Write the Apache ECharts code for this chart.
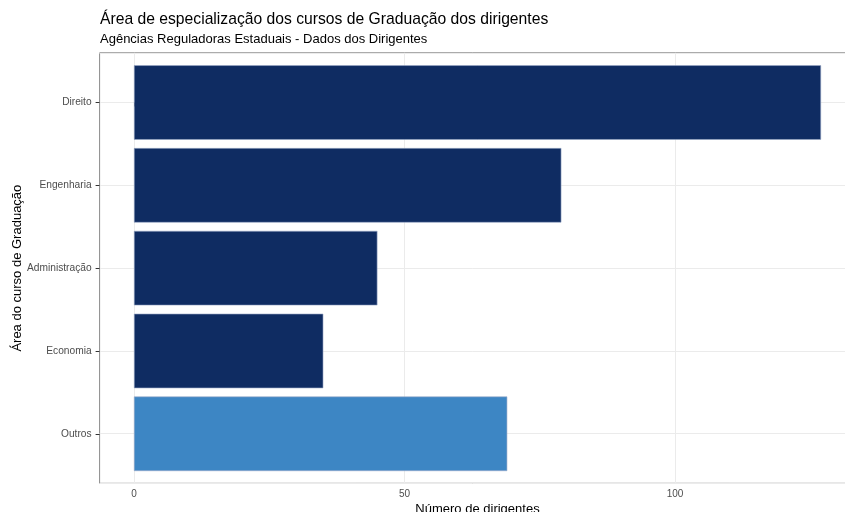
<!DOCTYPE html>
<html>
<head>
<meta charset="utf-8">
<script src="https://cdn.jsdelivr.net/npm/echarts@6/dist/echarts.min.js"></script>
<style>html,body{margin:0;padding:0;background:#fff}#c{width:845px;height:512px}</style>
</head>
<body>
<div id="c"></div>
<script>
const categories = ['Direito', 'Engenharia', 'Administração', 'Economia', 'Outros'];
const values = [127, 79, 45, 35, 69];
const highlight = ['Outros'];
const xTickLabels = [0, 50, 100];

const FONT = 'Liberation Sans, Arial, Helvetica, sans-serif';
const chart = echarts.init(document.getElementById('c'), null, {renderer: 'canvas'});

const xMin = -6.35, xMax = 133.35;
const gLeft = 99.6, gRight = -10.4;

chart.setOption({
  animation: false,
  backgroundColor: '#ffffff',
  title: [
    {text: 'Área de especialização dos cursos de Graduação dos dirigentes', left: 100, top: 12, padding: 0,
     textStyle: {fontFamily: FONT, fontSize: 15.7, fontWeight: 'normal', color: '#000'}},
    {text: 'Agências Reguladoras Estaduais - Dados dos Dirigentes', left: 100, top: 33, padding: 0,
     textStyle: {fontFamily: FONT, fontSize: 13, fontWeight: 'normal', color: '#000'}}
  ],
  grid: [
    {left: gLeft, right: gRight, top: 52.8, bottom: 28.7, show: true, borderColor: '#8a8a8a', borderWidth: 1,
     backgroundColor: 'transparent', containLabel: false, outerBoundsMode: 'none'},
    {left: gLeft, right: gRight, top: 61.1, bottom: 36.8, containLabel: false, outerBoundsMode: 'none'}
  ],
  xAxis: [
    {type: 'value', gridIndex: 0, min: xMin, max: xMax, minInterval: 25, maxInterval: 25,
     name: 'Número de dirigentes', nameLocation: 'middle', nameGap: 19.5, nameMoveOverlap: false,
     nameTextStyle: {fontFamily: FONT, fontSize: 13, color: '#000', align: 'center'},
     axisLine: {show: false},
     axisTick: {show: true, customValues: xTickLabels, length: 4, lineStyle: {color: '#333', width: 1}},
     axisLabel: {show: true, customValues: xTickLabels, margin: 6, fontFamily: FONT, fontSize: 10, color: '#4d4d4d'},
     splitLine: {show: true, lineStyle: {color: '#ebebeb', width: 1}}
    },
    {type: 'value', gridIndex: 1, min: xMin, max: xMax, show: false}
  ],
  yAxis: [
    {type: 'value', gridIndex: 0, min: -0.6, max: 4.6, minInterval: 1, maxInterval: 1, inverse: true,
     axisLine: {show: false, onZero: false}, axisTick: {show: false}, axisLabel: {show: false},
     splitLine: {show: true, lineStyle: {color: '#ebebeb', width: 1}}
    },
    {type: 'category', gridIndex: 1, data: categories, inverse: true,
     name: 'Área do curso de Graduação', nameLocation: 'middle', nameGap: 76, nameMoveOverlap: false,
     nameTextStyle: {fontFamily: FONT, fontSize: 13, color: '#000'},
     axisLine: {show: false, onZero: false},
     axisTick: {show: true, alignWithLabel: true, length: 4, lineStyle: {color: '#333', width: 1}},
     axisLabel: {margin: 8, fontFamily: FONT, fontSize: 10.2, color: '#4d4d4d'},
     splitLine: {show: false}
    }
  ],
  series: [{
    type: 'bar', xAxisIndex: 1, yAxisIndex: 1,
    barCategoryGap: '10%',
    data: categories.map((c, i) => ({
      value: values[i],
      itemStyle: {color: highlight.includes(c) ? '#3d86c4' : '#0f2c62'}
    })),
    itemStyle: {borderColor: '#9aaac8', borderWidth: 0.6},
    silent: true
  }]
});
</script>
</body>
</html>
